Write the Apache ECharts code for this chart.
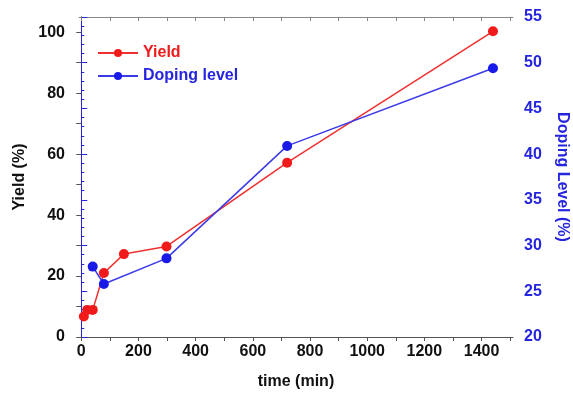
<!DOCTYPE html>
<html><head><meta charset="utf-8">
<script src="https://cdn.jsdelivr.net/npm/echarts@6/dist/echarts.min.js"></script>
<style>html,body{margin:0;padding:0;background:#fff}#c{width:573px;height:393px}</style>
</head><body><div id="c"></div>
<script>
var yieldTime = [9, 21, 40, 79, 149, 298, 720, 1440];
var yieldVals = [6.7, 8.9, 8.9, 21, 27.2, 29.7, 57.2, 100.3];
var dopingTime = [40, 79, 298, 720, 1440];
var dopingVals = [27.7, 25.8, 28.6, 40.9, 49.4];
var xTickLabels = [0, 200, 400, 600, 800, 1000, 1200, 1400];
var yTickLabels = [0, 20, 40, 60, 80, 100];
var y2TickLabels = [20, 25, 30, 35, 40, 45, 50, 55];

var F = '"Liberation Sans", Arial, sans-serif';
var chart = echarts.init(document.getElementById('c'));
function pairs(a, b) { return a.map(function (v, i) { return [v, b[i]]; }); }
function plain(v) { return String(v); }
var xMinorTicks = [];
for (var t = 0; t <= 1500; t += 100) xMinorTicks.push(t);
chart.setOption({
  animation: false,
  grid: { left: 79, right: 60, top: 17, bottom: 56, containLabel: false, outerBoundsMode: 'none' },
  legend: {
    left: 92, top: 40, orient: 'vertical', itemGap: 7, itemWidth: 40, itemHeight: 10,
    textStyle: { fontFamily: F, fontWeight: 'bold', fontSize: 16 },
    data: [
      { name: 'Yield', textStyle: { color: '#f01a1a' } },
      { name: 'Doping level', textStyle: { color: '#2525e0' } }
    ]
  },
  xAxis: [{
    type: 'value', min: -8, max: 1510, position: 'bottom',
    name: 'time (min)', nameLocation: 'middle', nameGap: 37,
    nameTextStyle: { fontFamily: F, fontWeight: 'bold', fontSize: 16, color: '#111' },
    axisLine: { lineStyle: { color: '#555', width: 1 } },
    axisTick: { customValues: xMinorTicks, length: 4, lineStyle: { color: '#555' } },
    axisLabel: { customValues: xTickLabels, formatter: plain, fontFamily: F, fontWeight: 'bold', fontSize: 16, color: '#111', margin: 7 },
    splitLine: { show: false }
  }, {
    type: 'value', min: -8, max: 1510, position: 'top',
    axisLine: { lineStyle: { color: '#888', width: 1 } },
    axisTick: { customValues: xMinorTicks, inside: true, length: 4, lineStyle: { color: '#888' } },
    axisLabel: { show: false }, splitLine: { show: false }
  }],
  yAxis: [{
    type: 'value', min: 0, max: 105, position: 'left',
    name: 'Yield (%)', nameLocation: 'middle', nameGap: 50, nameRotate: 90,
    nameTextStyle: { fontFamily: F, fontWeight: 'bold', fontSize: 16, color: '#111' },
    axisLine: { show: true, lineStyle: { color: '#555' } },
    axisTick: { customValues: [0,10,20,30,40,50,60,70,80,90,100], length: 5, lineStyle: { color: '#555' } },
    axisLabel: { customValues: yTickLabels, formatter: plain, fontFamily: F, fontWeight: 'bold', fontSize: 16, color: '#111', margin: 14 },
    splitLine: { show: false }
  }, {
    type: 'value', min: 20, max: 55, interval: 5, position: 'right',
    name: 'Doping Level (%)', nameLocation: 'middle', nameGap: 41, nameRotate: -90,
    nameTextStyle: { fontFamily: F, fontWeight: 'bold', fontSize: 16, color: '#2525e0' },
    axisLine: { show: true, lineStyle: { color: '#2525e0' } },
    axisTick: { length: 6, lineStyle: { color: '#2525e0' } },
    minorTick: { show: true, splitNumber: 5, length: 3, lineStyle: { color: '#2525e0' } },
    axisLabel: { customValues: y2TickLabels, formatter: plain, fontFamily: F, fontWeight: 'bold', fontSize: 16, color: '#2525e0', margin: 11 },
    splitLine: { show: false }
  }],
  series: [{
    name: 'Yield', type: 'line', xAxisIndex: 0, yAxisIndex: 0,
    data: pairs(yieldTime, yieldVals),
    symbol: 'circle', symbolSize: 10,
    itemStyle: { color: '#f01a1a' }, lineStyle: { color: '#f03030', width: 1.5 }
  }, {
    name: 'Doping level', type: 'line', xAxisIndex: 0, yAxisIndex: 1,
    data: pairs(dopingTime, dopingVals),
    symbol: 'circle', symbolSize: 10,
    itemStyle: { color: '#1a1ae8' }, lineStyle: { color: '#3a3ae8', width: 1.5 }
  }]
});
</script></body></html>
